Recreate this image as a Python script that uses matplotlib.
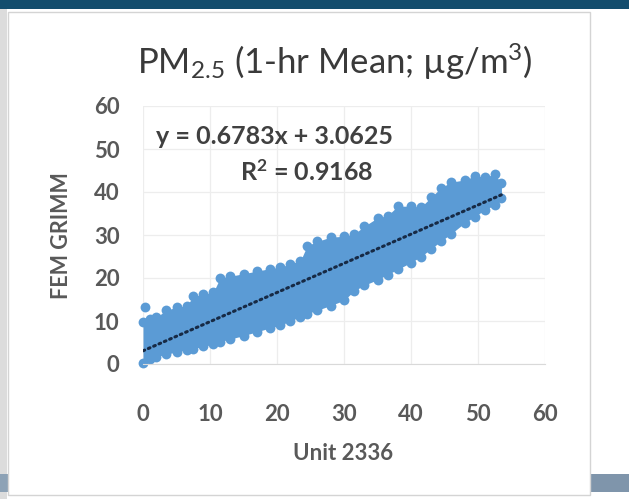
import matplotlib.pyplot as plt
from matplotlib.patches import Rectangle

W, H = 629, 499

# point cloud: x, top edge and bottom edge (marker centres)
cloud_x = [0, 1, 2, 3.5, 5, 6.5, 7.5, 9, 10.5, 11.5, 13, 15, 17, 19, 20.5, 22,
           23.5, 24.5, 26, 28, 30, 31.5, 33, 35, 36.5, 38, 40, 41.5, 43, 44.5,
           46, 48, 49.5, 51, 52.5, 53.5]
cloud_top = [9.7, 10.5, 10.9, 12.5, 13.2, 13.5, 15.7, 16.2, 16.7, 20.0, 20.4,
             21.0, 21.6, 22.2, 22.5, 23.3, 24.0, 27.5, 28.5, 29.5, 29.7, 30.2,
             32.0, 34.0, 34.5, 36.7, 36.7, 36.5, 38.8, 41.0, 42.3, 42.8, 43.7,
             43.5, 44.1, 42.0]
cloud_bottom = [0.3, 1.2, 1.7, 2.3, 2.8, 3.3, 3.6, 4.1, 4.6, 5.2, 5.8, 6.6, 7.5,
                8.4, 9.0, 10.0, 11.0, 11.7, 12.5, 13.6, 14.8, 17.0, 18.3, 19.6,
                20.8, 22.0, 23.6, 25.0, 26.8, 28.6, 30.3, 32.8, 34.3, 35.8,
                37.0, 38.5]
outlier_x = [0.3]
outlier_y = [13.3]

slope = 0.6783
intercept = 3.0625
fit_x = [0, 53.5]
fit_y = [slope * x + intercept for x in fit_x]

x_ticks = [0, 10, 20, 30, 40, 50, 60]
y_ticks = [0, 10, 20, 30, 40, 50, 60]

plt.rcParams["font.family"] = ["Lato", "DejaVu Sans"]
plt.rcParams["mathtext.fontset"] = "custom"
plt.rcParams["mathtext.rm"] = "Lato"
plt.rcParams["mathtext.it"] = "Lato:italic"
plt.rcParams["mathtext.bf"] = "Lato:bold"

fig = plt.figure(figsize=(W / 100, H / 100), dpi=100)


def px_rect(x0, y0, x1, y1, **kw):
    # rectangle given in picture pixels (y down)
    r = Rectangle((x0 / W, 1 - y1 / H), (x1 - x0) / W, (y1 - y0) / H,
                  transform=fig.transFigure, **kw)
    fig.add_artist(r)


# slide decoration around the chart
px_rect(0, 0, W, 9, facecolor="#134d6d", edgecolor="none", zorder=0)
px_rect(0, 9, 7, H, facecolor="#dcdcdc", edgecolor="none", zorder=0)
px_rect(0, 474, 9, 492, facecolor="#8da2b6", edgecolor="none", zorder=0)
px_rect(590, 474, W, 492, facecolor="#7f95ab", edgecolor="none", zorder=0)
px_rect(8, 12, 590, 495, facecolor="white", edgecolor="#d4d4d4",
        linewidth=1, zorder=0.5)

ax = fig.add_axes([143 / W, 1 - 364 / H, (545 - 143) / W, (364 - 106) / H])
ax.set_zorder(2)
ax.patch.set_alpha(0)

blue = "#5b9bd5"
ax.fill_between(cloud_x, cloud_bottom, cloud_top, color=blue, linewidth=0,
                zorder=2)
ax.scatter(cloud_x, cloud_top, s=50, color=blue, linewidths=0, zorder=2,
           clip_on=False)
ax.scatter(cloud_x, cloud_bottom, s=50, color=blue, linewidths=0, zorder=2,
           clip_on=False)
ax.scatter(outlier_x, outlier_y, s=50, color=blue, linewidths=0, zorder=2,
           clip_on=False)

ax.plot(fit_x, fit_y, color="#172a45", linewidth=2.2,
        linestyle=(0, (0.6, 1.3)), dash_capstyle="round", zorder=3)

ax.set_xlim(0, 60)
ax.set_ylim(0, 60)
ax.set_xticks(x_ticks)
ax.set_yticks(y_ticks)
ax.grid(True, color="#ededed", linewidth=0.9, zorder=0)
ax.set_axisbelow(True)
for side in ("top", "right", "left"):
    ax.spines[side].set_visible(False)
ax.spines["bottom"].set_color("#d9d9d9")
ax.tick_params(length=0, labelsize=16, labelcolor="#595959")
ax.tick_params(axis="x", pad=29)
ax.tick_params(axis="y", pad=17)
for lab in ax.get_xticklabels() + ax.get_yticklabels():
    lab.set_fontweight("bold")

fig.text(335 / W, 1 - 62 / H, r"PM$_{\mathrm{2.5}}$ (1-hr Mean; µg/m$^{\mathrm{3}}$)",
         ha="center", va="center", fontsize=25, color="#3a3a3a")
fig.text(343 / W, 1 - 453 / H, "Unit 2336", ha="center", va="center",
         fontsize=16, fontweight="bold", color="#595959")
fig.text(62 / W, 1 - 236 / H, "FEM GRIMM", ha="center", va="center",
         rotation=90, fontsize=15.5, fontweight="bold", color="#595959")

fig.text(274 / W, 1 - 136 / H, "y = 0.6783x + 3.0625", ha="center",
         va="center", fontsize=18, fontweight="bold", color="#404040")
fig.text(307 / W, 1 - 172 / H, r"R$^{\mathbf{2}}$ = 0.9168", ha="center",
         va="center", fontsize=18, fontweight="bold", color="#404040")

fig.savefig("out.png", dpi=100)
